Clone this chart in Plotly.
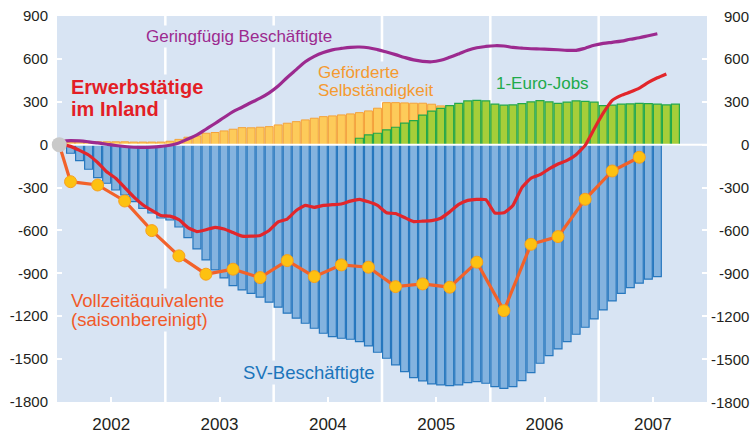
import plotly.graph_objects as go

# ---------------- data (values in thousands, change vs. Jan 2002) ----------------
YEARS = ["2002", "2003", "2004", "2005", "2006", "2007"]
MONTHS = [f"{y}-{m:02d}" for y in range(2002, 2008) for m in range(1, 13)]

# SV-Beschäftigte, Feb 2002 .. Jul 2007
sv_start = "2002-02"
sv_values = [-60, -112, -172, -231, -270, -317, -352, -399, -445, -478, -513, -527,
             -576, -650, -729, -806, -876, -932, -986, -1016, -1040, -1067, -1102, -1137,
             -1179, -1214, -1249, -1284, -1319, -1343, -1354, -1361, -1378, -1408, -1452, -1494,
             -1540, -1587, -1629, -1652, -1673, -1680, -1685, -1680, -1664, -1657, -1669, -1692,
             -1704, -1692, -1650, -1594, -1529, -1475, -1429, -1378, -1326, -1277, -1219, -1156,
             -1093, -1040, -1000, -969, -941, -923]

# Geförderte Selbständigkeit, Feb 2002 .. Dec 2005
gs_start = "2002-02"
gs_values = [18, 20, 20, 20, 20, 20, 20, 18, 18, 18, 18, 24,
             37, 52, 61, 80, 85, 96, 108, 119, 118, 122, 126, 138,
             150, 161, 173, 185, 196, 201, 208, 215, 224, 236, 255, 294,
             294, 292, 290, 290, 283, 271, 266, 258, 250, 243, 236]

# 1-Euro-Jobs, Oct 2004 .. Sep 2007
ej_start = "2004-10"
ej_values = [45, 68, 80, 103, 122, 150, 168, 207, 235, 254, 273, 289, 306, 310, 306, 283,
             276, 278, 287, 299, 308, 299, 289, 297, 306, 303, 297, 273,
             276, 283, 285, 289, 287, 283, 278, 283]

# Geringfügig Beschäftigte, Jan 2002 .. Jul 2007
gb_start = "2002-01"
gb_values = [25, 28, 26, 20, 12, 3, -6, -13, -18, -19, -17, -12,
             -4, 12, 40, 68, 108, 148, 190, 231, 262, 295, 325, 362,
             410, 470, 525, 580, 618, 645, 663, 673, 681, 683, 678, 665,
             648, 630, 610, 593, 583, 580, 590, 611, 635, 660, 678, 687,
             692, 690, 680, 675, 671, 669, 667, 664, 660, 660, 675, 695,
             708, 716, 724, 737, 748, 762, 776]

# Erwerbstätige im Inland, Jan 2002 .. Aug 2007
ew_start = "2002-01"
ew_values = [0, -12, -40, -72, -125, -190, -235, -300, -365, -420, -460, -495,
             -500, -525, -580, -608, -595, -578, -590, -615, -640, -640, -635, -600,
             -540, -520, -460, -425, -438, -425, -420, -415, -395, -382, -400, -425,
             -476, -482, -510, -538, -535, -531, -515, -470, -418, -390, -383, -385,
             -478, -476, -425, -300, -235, -210, -170, -135, -110, -70, -5, 110,
             220, 310, 345, 368, 395, 435, 468, 495]

# Vollzeitäquivalente (saisonbereinigt), quarterly Q1 2002 .. Q2 2007
QUARTERS = [f"{y} Q{q}" for y in range(2002, 2008) for q in range(1, 5)][:22]
vz_values = [-259, -282, -394, -601, -778, -906, -871, -930, -811, -923, -841,
             -857, -993, -974, -997, -822, -1161, -697, -643, -382, -184, -88]
ORIGIN_VALUE = 0

Y_TICKS = [-1800, -1500, -1200, -900, -600, -300, 0, 300, 600, 900]
Y_TICKTEXT = [str(v) for v in Y_TICKS]

# ---------------- helpers ----------------
def mx(start, n):
    i0 = MONTHS.index(start)
    return list(range(i0, i0 + n))

qx = [3 * k + 1 for k in range(len(QUARTERS))]  # quarter centres in month index
origin_x = -0.25

BG = "#D8E4F3"
FONT = "Liberation Sans, Arial, sans-serif"
L, R, T, B = 57, 46, 16, 31
W, H = 753, 433
PW, PH = W - L - R, H - T - B
X0, X1 = -0.5, 71.5
Y0, Y1 = -1800, 900


def px2x(px):
    return X0 + (px - L) / PW * (X1 - X0)


def py2y(py):
    return Y1 - (py - T) / PH * (Y1 - Y0)


fig = go.Figure()

BW = 0.88
fig.add_bar(x=mx(gs_start, len(gs_values)), y=gs_values, width=BW,
            marker=dict(color="#FDCB5A", line=dict(color="#F5A23A", width=1)))
fig.add_bar(x=mx(ej_start, len(ej_values)), y=ej_values, width=BW,
            marker=dict(color="#A6CE39", line=dict(color="#22A84A", width=1.2)))
fig.add_bar(x=mx(sv_start, len(sv_values)), y=sv_values, width=BW,
            marker=dict(color="#84B3DF", line=dict(color="#2677BE", width=1.2)))

# white zero line above the bars
fig.add_scatter(x=[X0, X1], y=[0, 0], mode="lines",
                line=dict(color="white", width=2), hoverinfo="skip")

fig.add_scatter(x=mx(gb_start, len(gb_values)), y=gb_values, mode="lines",
                line=dict(color="#9C2A8F", width=3.2, shape="spline", smoothing=1))
fig.add_scatter(x=mx(ew_start, len(ew_values)), y=ew_values, mode="lines",
                line=dict(color="#E2262B", width=3.2, shape="spline", smoothing=0.4))
fig.add_scatter(x=[origin_x] + qx, y=[ORIGIN_VALUE] + vz_values, mode="lines",
                line=dict(color="#F2622A", width=3.2), cliponaxis=False)
fig.add_scatter(x=qx, y=vz_values, mode="markers",
                marker=dict(size=12, color="#FDC111", line=dict(color="#F7A01E", width=1)))
fig.add_scatter(x=[origin_x], y=[ORIGIN_VALUE], mode="markers", cliponaxis=False,
                marker=dict(size=15, color="#C9C9C9"))

# year separators
shapes = []
for k in range(1, len(YEARS)):
    xs = 12 * k - 0.5
    shapes.append(dict(type="line", xref="x", yref="paper", x0=xs, x1=xs, y0=0, y1=1,
                       line=dict(color="white", width=2.5), layer="below"))

annotations = []


def label(text, left_px, cy_px, color, size, bold=False):
    annotations.append(dict(
        text=f"<b>{text}</b>" if bold else text, x=px2x(left_px), y=py2y(cy_px),
        xref="x", yref="y", xanchor="left", yanchor="middle", showarrow=False,
        font=dict(family=FONT, size=size, color=color), bgcolor=BG, borderpad=1))


label("Geringfügig Beschäftigte", 144, 36, "#9C2A8F", 17)
label("Erwerbstätige", 69, 87, "#E31E26", 20, bold=True)
label("im Inland", 69, 109, "#E31E26", 20, bold=True)
label("Geförderte", 316, 72, "#F59A30", 17)
label("Selbständigkeit", 316, 90, "#F59A30", 17)
label("1-Euro-Jobs", 494, 83, "#21AA4B", 17)
label("Vollzeitäquivalente", 69, 300, "#F15A29", 18.5)
label("(saisonbereinigt)", 69, 319, "#F15A29", 18.5)
label("SV-Beschäftigte", 241, 372, "#1B75BB", 18.5)

# right axis labels (right-aligned)
for v, t in zip(Y_TICKS, Y_TICKTEXT):
    annotations.append(dict(text=t, x=1, xref="paper", y=v, yref="y", xanchor="right",
                            yanchor="middle", xshift=44, showarrow=False,
                            font=dict(family=FONT, size=15, color="#231F20")))

fig.update_layout(
    width=W, height=H, margin=dict(l=L, r=R, t=T, b=B, autoexpand=False),
    plot_bgcolor=BG, paper_bgcolor="white", showlegend=False, barmode="overlay",
    font=dict(family=FONT, color="#231F20"),
    shapes=shapes, annotations=annotations,
    xaxis=dict(range=[X0, X1], tickvals=[12 * k + 5.5 for k in range(len(YEARS))],
               ticktext=YEARS, ticks="inside", ticklen=5, tickwidth=2, tickcolor="white",
               showgrid=False, zeroline=False, showline=False, layer="below traces",
               tickfont=dict(size=17), ticklabelstandoff=10),
    yaxis=dict(range=[Y0, Y1], tickvals=Y_TICKS, ticktext=Y_TICKTEXT, ticks="inside",
               ticklen=5, tickwidth=2, tickcolor="white", mirror="ticks",
               showgrid=False, zeroline=False, showline=False, layer="below traces",
               tickfont=dict(size=15), ticklabelstandoff=8),
)

fig.write_html("out.html", config={"displayModeBar": False},
               post_script="document.body.style.margin='0';")
